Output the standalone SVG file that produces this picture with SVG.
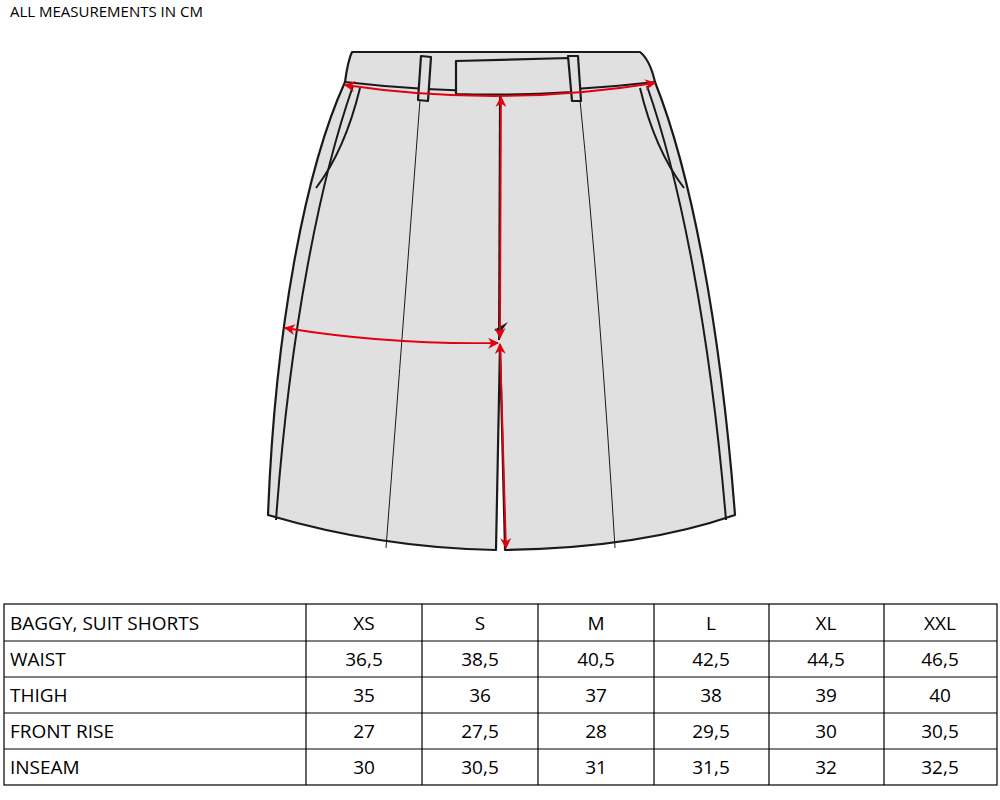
<svg xmlns="http://www.w3.org/2000/svg" width="1000" height="800" viewBox="0 0 1000 800">
<style>
.o{fill:#e0e0e0;stroke:#1a1a1a;stroke-width:2.2;stroke-linejoin:round}
.l{fill:none;stroke:#1a1a1a;stroke-width:2}
.t{fill:none;stroke:#1a1a1a;stroke-width:1}
.r{fill:none;stroke:#e00010;stroke-width:1.8}
.g{stroke:#000;stroke-width:1.2}
text{font-family:"Open Sans","Liberation Sans",sans-serif;font-size:19px;fill:#000}
.c{text-anchor:middle}
</style>
<defs>
<marker id="a" viewBox="0 0 10 10" refX="9" refY="5" markerWidth="11" markerHeight="11" markerUnits="userSpaceOnUse" orient="auto-start-reverse"><path d="M0,0L10,5L0,10L3,5Z" fill="#e00010"/></marker>
</defs>
<text x="10" y="17" style="font-size:15px">ALL MEASUREMENTS IN CM</text>
<g id="shorts">
<path class="o" d="M352,52 L640,52 Q650,60 655,82 C690,170 720,320 735,515 Q640,548 505,550 L500,345 L496,550 Q380,548 268,515 C275,330 305,170 345,82 Q348,60 352,52 Z"/>
<path class="l" d="M345,82 Q500,100 655,82"/>
<path class="l" d="M353,86 C320,180 290,330 276,520"/>
<path class="l" d="M647,86 C680,180 710,330 726,520"/>
<path class="l" d="M360,88 Q345,150 316,188"/>
<path class="l" d="M640,88 Q655,150 684,188"/>
<path class="t" d="M420,100 Q405,300 386,548"/>
<path class="t" d="M580,100 Q600,300 615,548"/>
<path class="o" d="M456,61 L570,58 L572,92 Q510,96 456,94 Z"/>
<path class="o" d="M421,56 L431,57 L428,101 L418,100 Z"/>
<path class="o" d="M568,56 L578,56 L581,101 L572,101 Z"/>
<path class="l" d="M500,95 L499,340"/>
<path d="M494,330 L508,322 L500,333 Z" fill="#1a1a1a"/>
</g>
<g id="measures">
<path class="r" d="M345,85 Q500,108 655,83" marker-start="url(#a)" marker-end="url(#a)"/>
<path class="r" d="M501,97 L500,338" marker-start="url(#a)" marker-end="url(#a)"/>
<path class="r" d="M285,328 Q390,345 498,343" marker-start="url(#a)" marker-end="url(#a)"/>
<path class="r" d="M500,344 L506,548" marker-start="url(#a)" marker-end="url(#a)"/>
</g>
<g id="table">
<rect x="4" y="604" width="993" height="181" fill="none" class="g"/>
<path class="g" d="M4,641H997M4,677H997M4,713H997M4,749H997M306,604V785M422,604V785M538,604V785M654,604V785M769,604V785M884,604V785"/>
<g>
<text x="10" y="630">BAGGY, SUIT SHORTS</text>
<text x="10" y="666">WAIST</text>
<text x="10" y="702">THIGH</text>
<text x="10" y="738">FRONT RISE</text>
<text x="10" y="774">INSEAM</text>
</g>
<g class="c">
<text class="c" x="364" y="630">XS</text><text class="c" x="480" y="630">S</text><text class="c" x="596" y="630">M</text><text class="c" x="711" y="630">L</text><text class="c" x="826" y="630">XL</text><text class="c" x="940" y="630">XXL</text>
<text class="c" x="364" y="666">36,5</text><text class="c" x="480" y="666">38,5</text><text class="c" x="596" y="666">40,5</text><text class="c" x="711" y="666">42,5</text><text class="c" x="826" y="666">44,5</text><text class="c" x="940" y="666">46,5</text>
<text class="c" x="364" y="702">35</text><text class="c" x="480" y="702">36</text><text class="c" x="596" y="702">37</text><text class="c" x="711" y="702">38</text><text class="c" x="826" y="702">39</text><text class="c" x="940" y="702">40</text>
<text class="c" x="364" y="738">27</text><text class="c" x="480" y="738">27,5</text><text class="c" x="596" y="738">28</text><text class="c" x="711" y="738">29,5</text><text class="c" x="826" y="738">30</text><text class="c" x="940" y="738">30,5</text>
<text class="c" x="364" y="774">30</text><text class="c" x="480" y="774">30,5</text><text class="c" x="596" y="774">31</text><text class="c" x="711" y="774">31,5</text><text class="c" x="826" y="774">32</text><text class="c" x="940" y="774">32,5</text>
</g>
</g>
</svg>
